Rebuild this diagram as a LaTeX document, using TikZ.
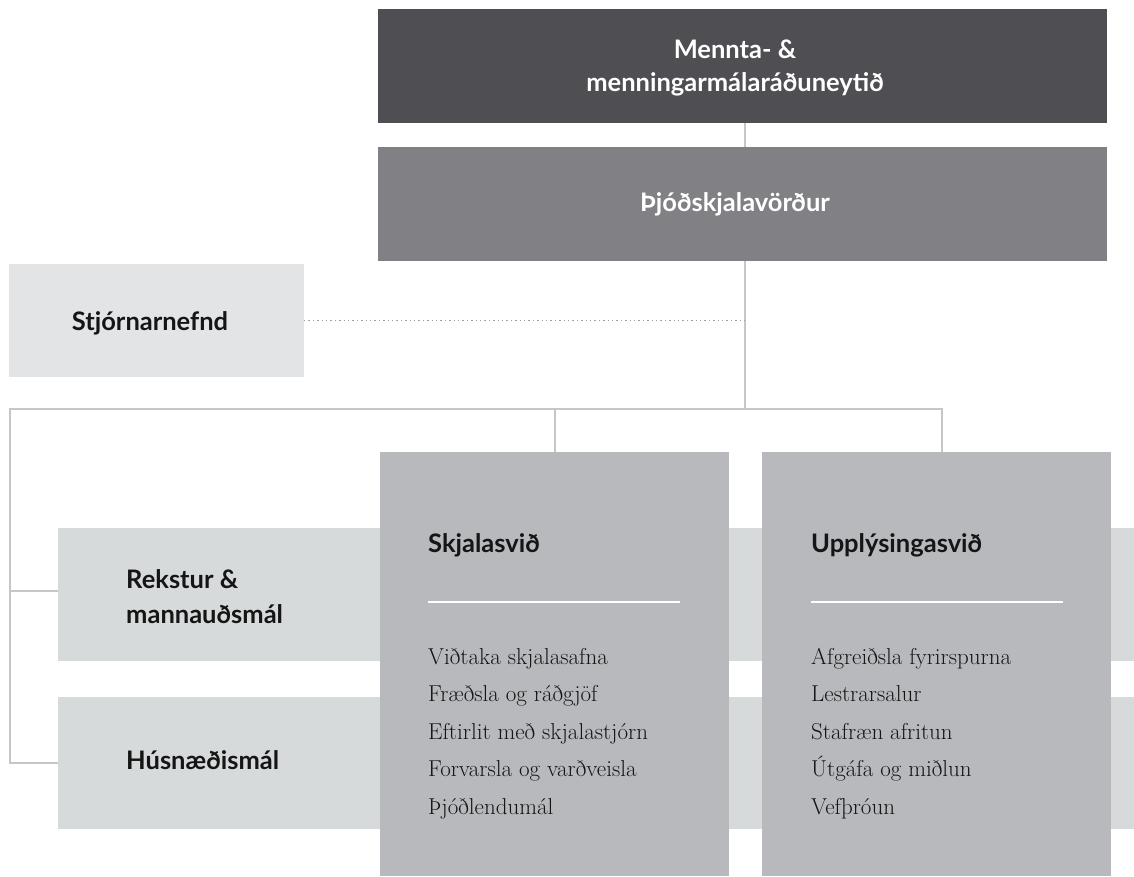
\documentclass[tikz,border=0pt]{standalone}
\usepackage{fontspec}
\newfontfamily\hd{Lato}
\definecolor{cDark}{HTML}{4F4E53}
\definecolor{cMid}{HTML}{818085}
\definecolor{cLight}{HTML}{E3E4E6}
\definecolor{cBand}{HTML}{D7DADB}
\definecolor{cCol}{HTML}{B8B9BD}
\definecolor{cLine}{HTML}{C6C6C8}
\definecolor{cDot}{HTML}{A0A0A3}
\definecolor{cText}{HTML}{151515}
\tikzset{
  box/.style={rectangle, anchor=north west, inner sep=0pt, outer sep=0pt},
  conn/.style={draw=cLine, line width=1.7pt},
  dotconn/.style={draw=cDot, line width=1.6pt, dash pattern=on 1.4pt off 3pt},
  toptxt/.style={text=white, font=\hd\bfseries\fontsize{25.5}{33}\selectfont, align=center, inner sep=0pt},
  sanslbl/.style={text=cText, font=\hd\bfseries\fontsize{25.5}{35}\selectfont, inner sep=0pt, align=left},
  itemlbl/.style={text=cText, font=\fontsize{23}{37.5}\selectfont, inner sep=0pt, anchor=base west},
  rule/.style={draw=white, line width=2.5pt}
}
\begin{document}
\begin{tikzpicture}[x=1pt,y=-1pt]
\useasboundingbox (0,0) rectangle (1134,876);
% top boxes
\node[box, fill=cDark, minimum width=729pt, minimum height=114pt] (min) at (378,9) {};
\node[toptxt] (minl) at (735,68) {Mennta- \&\\menningarmálaráðuneytið};
\node[box, fill=cMid, minimum width=729pt, minimum height=114pt] (thj) at (378,147) {};
\node[toptxt] (thjl) at (735,204) {Þjóðskjalavörður};
% Stjornarnefnd
\node[box, fill=cLight, minimum width=295pt, minimum height=113pt] (stj) at (9,264) {};
\node[sanslbl, anchor=base] (stjl) at (150,330) {Stjórnarnefnd};
% bands
\node[box, fill=cBand, minimum width=1076pt, minimum height=133pt] (rek) at (58,528) {};
\node[box, fill=cBand, minimum width=1076pt, minimum height=132pt] (hus) at (58,697) {};
\node[sanslbl, anchor=base west] (rekl) at (126,588) {Rekstur \&};
\node[sanslbl, anchor=base west] (rekl2) at (126,623) {mannauðsmál};
\node[sanslbl, anchor=base west] (husl) at (126,769) {Húsnæðismál};
% columns
\node[box, fill=cCol, minimum width=349pt, minimum height=424pt] (skj) at (380,452) {};
\node[box, fill=cCol, minimum width=349pt, minimum height=424pt] (upp) at (762,452) {};
\node[sanslbl, anchor=base west] (skjh) at (428,552) {Skjalasvið};
\node[sanslbl, anchor=base west] (upph) at (811,552) {Upplýsingasvið};
\coordinate (r1a) at (428,602); \coordinate (r1b) at (680,602);
\coordinate (r2a) at (811,602); \coordinate (r2b) at (1063,602);
\draw[rule] (r1a) -- (r1b);
\draw[rule] (r2a) -- (r2b);
% items
\node[itemlbl] (s1) at (428,664) {Viðtaka skjalasafna};
\node[itemlbl] (s2) at (428,701.5) {Fræðsla og ráðgjöf};
\node[itemlbl] (s3) at (428,739) {Eftirlit með skjalastjórn};
\node[itemlbl] (s4) at (428,776.5) {Forvarsla og varðveisla};
\node[itemlbl] (s5) at (428,814) {Þjóðlendumál};
\node[itemlbl] (u1) at (811,664) {Afgreiðsla fyrirspurna};
\node[itemlbl] (u2) at (811,701.5) {Lestrarsalur};
\node[itemlbl] (u3) at (811,739) {Stafræn afritun};
\node[itemlbl] (u4) at (811,776.5) {Útgáfa og miðlun};
\node[itemlbl] (u5) at (811,814) {Vefþróun};
% connectors
\coordinate (trunk) at (745,0);
\coordinate (hub) at (745,409);
\coordinate (bl) at (10,409);
\coordinate (bm) at (555,409);
\coordinate (br) at (942,409);
\draw[conn] (min.south -| trunk) -- (thj.north -| trunk);
\draw[conn] (thj.south -| trunk) -- (hub);
\draw[dotconn] (stj.east) -- (stj.east -| trunk);
\draw[conn, line cap=rect] (bl) -- (br);
\draw[conn] (bm) -- (skj.north -| bm);
\draw[conn] (br) -- (upp.north -| br);
\draw[conn] (bl) -- (bl |- hus.west) -- (hus.west);
\coordinate (rekt) at (58,591);
\draw[conn] (bl |- rekt) -- (rekt);
\end{tikzpicture}
\end{document}
